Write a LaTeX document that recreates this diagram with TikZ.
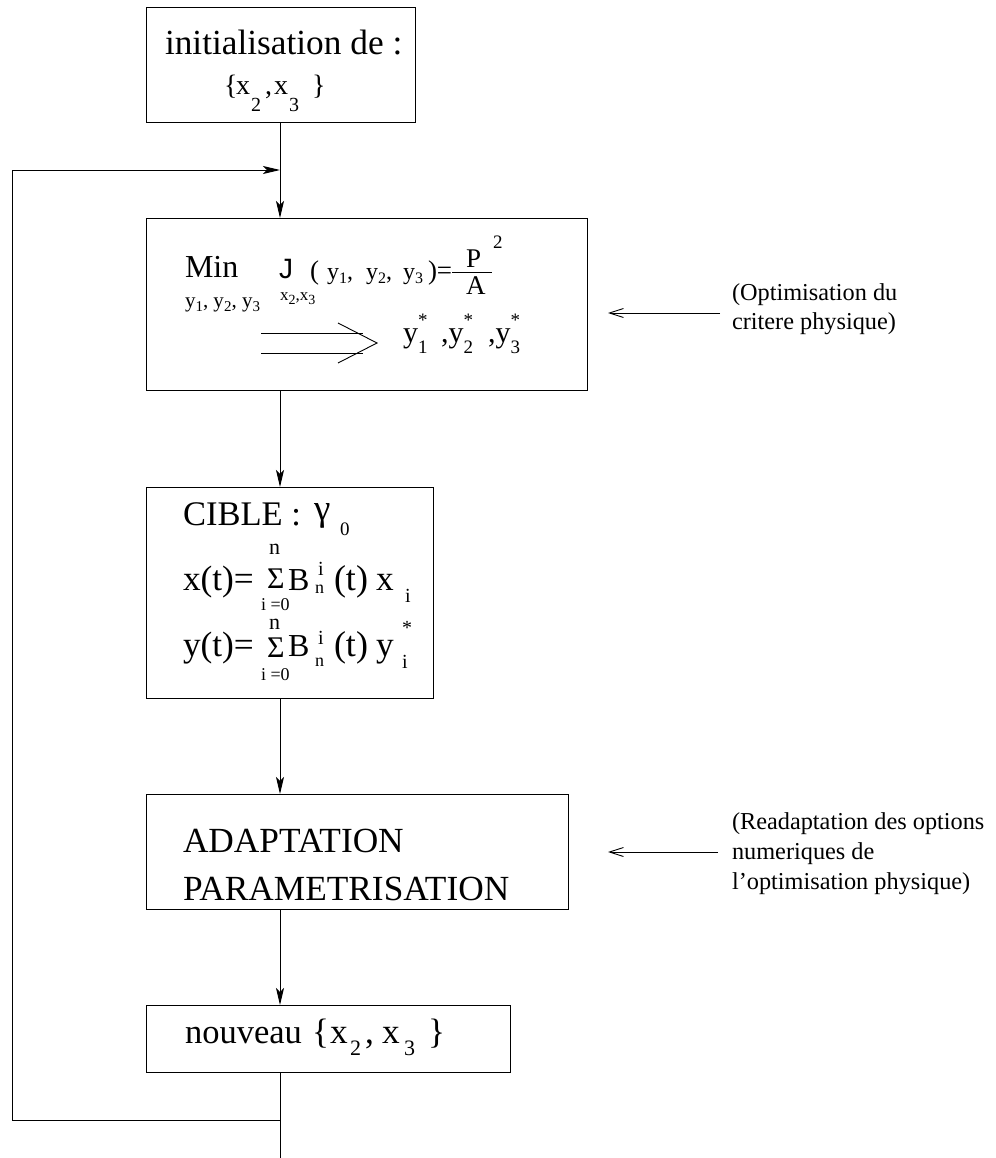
\documentclass[tikz,border=0pt]{standalone}
\usepackage{fontspec}
\setmainfont{Liberation Serif}
\newfontfamily\sansJ{Liberation Sans}
\usetikzlibrary{arrows.meta}
\newcommand\fsz[1]{\fontsize{#1}{#1}\selectfont}
\newcommand\lowr[3]{\raisebox{-#1pt}{\fsz{#2}#3}}
\newcommand\supsub[5]{\rlap{\raisebox{#1pt}{\fsz{#3}#4}}\raisebox{-#2pt}{\fsz{#3}#5}}
\begin{document}
\begin{tikzpicture}[x=1pt,y=-1pt,
  box/.style={draw, line width=0.9pt, inner sep=0pt, anchor=north west},
  txt/.style={anchor=base west, inner sep=0pt, outer sep=0pt},
  arr/.style={line width=0.9pt, -{Stealth[length=17pt,width=8pt,inset=4pt]}},
  barb/.style={line width=0.9pt, -{Straight Barb[length=14pt,width=9pt]}},
  ln/.style={line width=0.9pt}]
\fill[white] (0,0) rectangle (995,1158);
\useasboundingbox (0,0) rectangle (995,1158);
% boxes
\node[box, minimum width=269pt, minimum height=115pt] (b1) at (146,7) {};
\node[box, minimum width=441pt, minimum height=172pt] (b2) at (146,218) {};
\node[box, minimum width=287pt, minimum height=211pt] (b3) at (146,487) {};
\node[box, minimum width=422pt, minimum height=115pt] (b4) at (146,794) {};
\node[box, minimum width=364pt, minimum height=67pt] (b5) at (146,1005) {};
% spine and connectors
\coordinate (sp) at (280,0);
\coordinate (endB) at (280,1158);
\coordinate (lpB) at (12,1120);
\coordinate (lpT) at (12,170);
\coordinate (lpJ) at (280,170);
\draw[arr] (b1.south -| sp) -- (b2.north -| sp);
\draw[arr] (b2.south -| sp) -- (b3.north -| sp);
\draw[arr] (b3.south -| sp) -- (b4.north -| sp);
\draw[arr] (b4.south -| sp) -- (b5.north -| sp);
\draw[ln] (b5.south -| sp) -- (endB);
\draw[arr] (lpB -| sp) -- (lpB) -- (lpT) -- (lpJ);
% side arrows
\coordinate (n1s) at (720,313); \coordinate (n1e) at (608,313);
\coordinate (n2s) at (718,852); \coordinate (n2e) at (608,852);
\draw[barb] (n1s) -- (n1e);
\draw[barb] (n2s) -- (n2e);
% box 1
\node[txt] (t1a) at (165,55) {\fsz{35.3}initialisation de :};
\node[txt] (t1b1) at (224,95) {\fsz{28}\{};
\node[txt] (t1b1x) at (236,95) {\fsz{28}x};
\node[txt] (t1b2) at (251,112) {\fsz{20}2};
\node[txt] (t1b3) at (265,95) {\fsz{28},};
\node[txt] (t1b4) at (274,95) {\fsz{28}x};
\node[txt] (t1b5) at (289,112) {\fsz{20}3};
\node[txt] (t1b6) at (312,95) {\fsz{28}\}};
% box 2
\node[txt] (t2min) at (185,277) {\fsz{32}Min};
\node[txt] (t2mins) at (185,307) {\fsz{21}y\lowr{4}{15}{1}, y\lowr{4}{15}{2}, y\lowr{4}{15}{3}};
\node[txt] (t2J) at (279,278) {\fsz{28}\sansJ J};
\node[txt] (t2Js) at (280,300) {\fsz{17}x\lowr{4}{14}{2},x\lowr{4}{14}{3}};
\node[txt] (t2p) at (310,279) {\fsz{27}(};
\node[txt] (t2y1) at (327,279) {\fsz{24}y\lowr{5}{16}{1},};
\node[txt] (t2y2) at (366,279) {\fsz{24}y\lowr{5}{16}{2},};
\node[txt] (t2y3) at (403,279) {\fsz{24}y\lowr{5}{16}{3}};
\node[txt] (t2eq) at (428,279) {\fsz{27})=};
\node[txt] (t2P) at (466,267) {\fsz{27}P};
\node[txt] (t2P2) at (493,248) {\fsz{19}2};
\node[txt] (t2A) at (466,294) {\fsz{27}A};
\draw[ln] (452,272) -- (492,272);
\draw[ln] (261,333) -- (363,333);
\draw[ln] (261,353) -- (363,353);
\draw[ln] (338,323) -- (377,343) -- (338,363);
\node[txt] (t2ys1) at (403,342) {\fsz{30}y\supsub{16}{11}{19}{*}{1}};
\node[txt] (t2ys2) at (441,342) {\fsz{30},y\supsub{16}{11}{19}{*}{2}};
\node[txt] (t2ys3) at (488,342) {\fsz{30},y\supsub{16}{11}{19}{*}{3}};
% box 3
\node[txt] (t3c) at (183,525) {\fsz{34.5}CIBLE :};
\node[txt] (t3g) at (314,520) {\fsz{37}γ};
\node[txt] (t3g0) at (340,535) {\fsz{19}0};
\node[txt] (t3x) at (183,590) {\fsz{35.3}x(t)=};
\node[txt] (t3s1) at (267,588) {\fsz{30}Σ};
\node[txt] (t3n1) at (269,554) {\fsz{22}n};
\node[txt] (t3i1) at (261,610) {\fsz{18}i =0};
\node[txt] (t3B1) at (288,590) {\fsz{32}B};
\node[txt] (t3bi1) at (318,575) {\fsz{20}i};
\node[txt] (t3bn1) at (315,593) {\fsz{18}n};
\node[txt] (t3t1) at (334,590) {\fsz{36}(t)};
\node[txt] (t3xx) at (376,590) {\fsz{35.3}x};
\node[txt] (t3xi) at (405,602) {\fsz{20}i};
\node[txt] (t3y) at (183,656) {\fsz{35.3}y(t)=};
\node[txt] (t3s2) at (267,657) {\fsz{30}Σ};
\node[txt] (t3n2) at (269,629) {\fsz{22}n};
\node[txt] (t3i2) at (261,680) {\fsz{18}i =0};
\node[txt] (t3B2) at (288,656) {\fsz{32}B};
\node[txt] (t3bi2) at (318,644) {\fsz{20}i};
\node[txt] (t3bn2) at (315,666) {\fsz{18}n};
\node[txt] (t3t2) at (334,656) {\fsz{36}(t)};
\node[txt] (t3yy) at (376,656) {\fsz{35.3}y};
\node[txt] (t3ys) at (402,634) {\fsz{20}*};
\node[txt] (t3yi) at (402,668) {\fsz{20}i};
% box 4
\node[txt] (t4a) at (183,852) {\fsz{35.3}ADAPTATION};
\node[txt] (t4b) at (183,900) {\fsz{35.3}PARAMETRISATION};
% box 5
\node[txt] (t5a) at (185,1043) {\fsz{34.5}nouveau};
\node[txt] (t5a2) at (312,1043) {\fsz{35.3}\{};
\node[txt] (t5b) at (330,1043) {\fsz{35.3}x};
\node[txt] (t5c) at (350,1055) {\fsz{22}2};
\node[txt] (t5d) at (365,1043) {\fsz{35.3},};
\node[txt] (t5e) at (382,1043) {\fsz{35.3}x};
\node[txt] (t5f) at (404,1055) {\fsz{22}3};
\node[txt] (t5g) at (428,1043) {\fsz{35.3}\}};
% notes
\node[txt] (c1a) at (732,300) {\fsz{24.3}(Optimisation du};
\node[txt] (c1b) at (732,329) {\fsz{24.3}critere physique)};
\node[txt] (c2a) at (732,829) {\fsz{24.3}(Readaptation des options};
\node[txt] (c2b) at (732,859) {\fsz{24.3}numeriques de};
\node[txt] (c2c) at (732,889) {\fsz{24.3}l’optimisation physique)};
\end{tikzpicture}
\end{document}
